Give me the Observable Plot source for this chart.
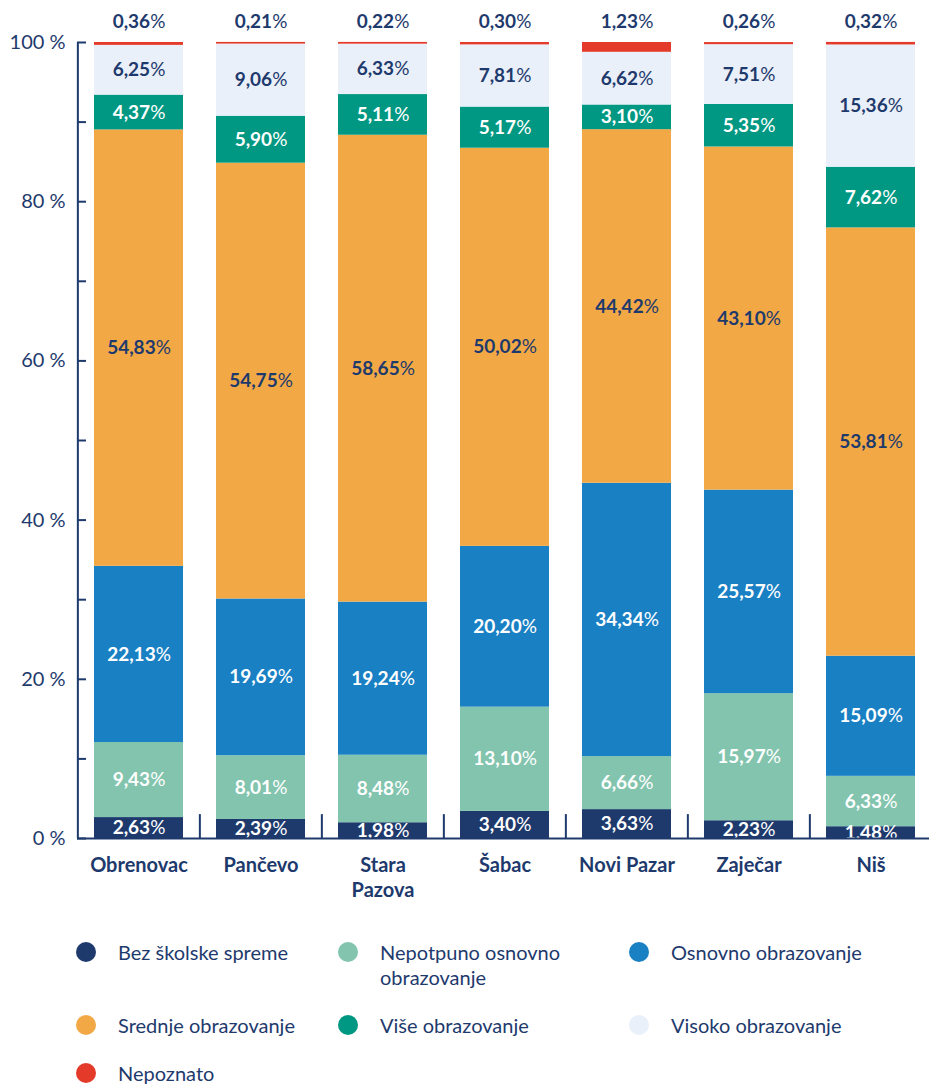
<!DOCTYPE html>
<html>
<head>
<meta charset="utf-8">
<script src="https://cdn.jsdelivr.net/npm/d3@7"></script>
<script src="https://cdn.jsdelivr.net/npm/@observablehq/plot@0.6"></script>
<style>
  html, body { margin: 0; padding: 0; background: #fff; }
  body { width: 929px; height: 1085px; overflow: hidden; font-family: Lato, "Open Sans", sans-serif; color: #1e3a6d; }
  #chart svg { display: block; }
  #legend { position: relative; width: 929px; height: 185px; }
  .item { position: absolute; display: flex; align-items: flex-start; font-size: 20px; line-height: 25px; }
  .dot { width: 20px; height: 20px; border-radius: 50%; margin-top: 2px; margin-right: 22px; flex: none; }
</style>
</head>
<body>
<div id="chart"></div>
<div id="legend"></div>
<script>
const cities = ["Obrenovac", "Pančevo", "Stara Pazova", "Šabac", "Novi Pazar", "Zaječar", "Niš"];
const categories = ["Bez školske spreme", "Nepotpuno osnovno obrazovanje", "Osnovno obrazovanje", "Srednje obrazovanje", "Više obrazovanje", "Visoko obrazovanje", "Nepoznato"];
const colors = ["#1e3a6d", "#82c4ae", "#1a80c4", "#f2a945", "#009882", "#eaf0f9", "#e43a2a"];
const labelColors = ["#ffffff", "#ffffff", "#ffffff", "#1e3a6d", "#ffffff", "#1e3a6d", "#1e3a6d"];

const bezSkolske = [2.63, 2.39, 1.98, 3.40, 3.63, 2.23, 1.48];
const nepotpunoOsnovno = [9.43, 8.01, 8.48, 13.10, 6.66, 15.97, 6.33];
const osnovno = [22.13, 19.69, 19.24, 20.20, 34.34, 25.57, 15.09];
const srednje = [54.83, 54.75, 58.65, 50.02, 44.42, 43.10, 53.81];
const vise = [4.37, 5.90, 5.11, 5.17, 3.10, 5.35, 7.62];
const visoko = [6.25, 9.06, 6.33, 7.81, 6.62, 7.51, 15.36];
const nepoznato = [0.36, 0.21, 0.22, 0.30, 1.23, 0.26, 0.32];

const yTicksMinor = [0, 10, 20, 30, 40, 50, 60, 70, 80, 90, 100];
const yTicksMajor = [0, 20, 40, 60, 80, 100];

const series = [bezSkolske, nepotpunoOsnovno, osnovno, srednje, vise, visoko, nepoznato];
const rows = [];
series.forEach((vals, ci) => {
  vals.forEach((v, i) => rows.push({city: cities[i], cat: categories[ci], ci, value: v}));
});
const topRows = rows.filter(d => d.cat === "Nepoznato");

const navy = "#1e3a6d";
const fmt = v => v.toFixed(2).replace(".", ",") + "%";
const range = [76.5, 932.5];
const halfStep = (range[1] - range[0]) / cities.length / 2;

const plot = Plot.plot({
  width: 929,
  height: 900,
  marginTop: 42,
  marginBottom: 62,
  marginLeft: 77,
  marginRight: 0,
  style: {fontFamily: "Lato, 'Open Sans', sans-serif", color: navy, background: "#fff", overflow: "visible"},
  x: {domain: cities, range, paddingInner: 0.272, paddingOuter: 0.136, label: null},
  y: {domain: [0, 100], label: null},
  color: {domain: categories, range: colors},
  marks: [
    Plot.barY(rows, {x: "city", y: "value", z: "cat", fill: "cat"}),
    Plot.text(rows, Plot.stackY({
      x: "city", y: "value", z: "cat",
      filter: d => d.cat !== "Nepoznato",
      text: d => fmt(d.value),
      fill: d => labelColors[d.ci],
      fontSize: 19, fontWeight: "bold"
    })),
    Plot.text(topRows, {x: "city", y: () => 100, dy: -21, text: d => fmt(d.value), fill: navy, fontSize: 19, fontWeight: "bold"}),
    Plot.ruleY([0], {stroke: navy, strokeWidth: 2}),
    Plot.ruleX([cities[0]], {dx: -halfStep, y1: 0, y2: 100, stroke: navy, strokeWidth: 2}),
    Plot.ruleX(cities.slice(1), {dx: -halfStep, y1: 0, y2: 3, stroke: navy, strokeWidth: 2}),
    Plot.axisY({ticks: yTicksMinor, tickSize: -9, tickFormat: () => "", stroke: navy, strokeWidth: 2, label: null}),
    Plot.axisY({ticks: yTicksMajor, tickSize: 0, tickPadding: 12, tickFormat: d => d + " %", fontSize: 20, fill: navy, label: null}),
    Plot.axisX({tickSize: 0, tickPadding: 16, fontSize: 20, fontWeight: "bold", fill: navy, lineHeight: 1.25, label: null,
      tickFormat: d => d === "Stara Pazova" ? "Stara\nPazova" : d})
  ]
});
document.getElementById("chart").appendChild(plot);

// lighter "%" sign in value labels
plot.querySelectorAll("text").forEach(t => {
  if (t.children.length === 0 && /^\d+,\d+%$/.test(t.textContent)) {
    const num = t.textContent.slice(0, -1);
    t.textContent = "";
    const a = document.createElementNS("http://www.w3.org/2000/svg", "tspan");
    a.textContent = num;
    const b = document.createElementNS("http://www.w3.org/2000/svg", "tspan");
    b.textContent = "%";
    b.setAttribute("font-weight", "normal");
    t.appendChild(a); t.appendChild(b);
  }
});

// legend
const legendPos = [
  [86, 52], [348, 52], [639, 52],
  [86, 125], [348, 125], [639, 125],
  [86, 173]
];
const legend = document.getElementById("legend");
categories.forEach((c, i) => {
  const item = document.createElement("div");
  item.className = "item";
  item.style.left = (legendPos[i][0] - 10) + "px";
  item.style.top = (legendPos[i][1] - 12) + "px";
  const dot = document.createElement("div");
  dot.className = "dot";
  dot.style.background = colors[i];
  const label = document.createElement("div");
  if (c === "Nepotpuno osnovno obrazovanje") {
    label.innerHTML = "Nepotpuno osnovno<br>obrazovanje";
  } else {
    label.textContent = c;
  }
  item.appendChild(dot);
  item.appendChild(label);
  legend.appendChild(item);
});
</script>
</body>
</html>
